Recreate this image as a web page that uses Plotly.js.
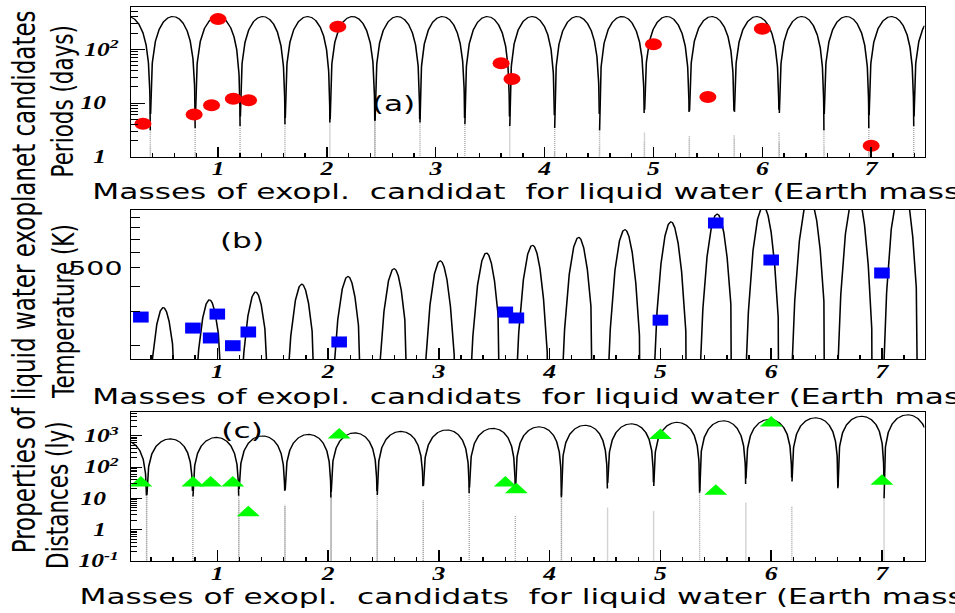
<!DOCTYPE html>
<html>
<head>
<meta charset="utf-8">
<script src="https://cdn.plot.ly/plotly-3.0.1.min.js"></script>
<style>
html,body{margin:0;padding:0;overflow:hidden;background:#fff;width:955px;height:613px;}
#wrap{width:955px;height:613px;overflow:hidden;position:relative;}
#chart{width:673px;height:613px;transform:scaleX(1.41902);transform-origin:0 0;}
</style>
</head>
<body>
<div id="wrap"><div id="chart"></div></div>
<script>
// ---------- data ----------
const masses       = [0.31, 0.78, 0.94, 1.0, 1.14, 1.28, 2.1, 3.6, 3.7, 5.0, 5.5, 6.0, 7.0];
const periods      = [4.1, 6.1, 9.1, 365, 12.0, 11.2, 264, 55, 28, 124, 12.9, 242, 1.6];
const temperatures = [280, 246, 219, 290, 200, 235, 209, 297, 277, 270, 846, 548, 470];
const distances    = [31, 31, 31, null, 31, 3.5, 1050, 31, 19, 1030, 17, 2540, 35];

// ROOT function curves drawn in each pad (parameters)
const curveA = {amp: 408, zero: 0.378, period: 0.4126, faint: 3};                                // amp*|sin|
const curveB = {logAmp: 2.4955, ref: 0.51, slope: 0.0955, peak: 3.01, period: 0.4166, faint: 0}; // G(x)*cos^2
const curveC = {logAmp: 2.904, ref: 0.603, slope: 0.1158, zero: 0.3627, period: 0.416, faint: 10}; // H(x)*|sin|

// axis ranges and tick labels
const xRangeA = [0.2, 7.49];
const xRangeBC = [0.221, 7.384];
const xTickVals = [1, 2, 3, 4, 5, 6, 7];
const xTickText = ['1', '2', '3', '4', '5', '6', '7'];
const yTickValsA = [1, 10, 100];
const yTickTextA = ['1\u2002', '10\u2002', '10<sup>2</sup>'];
const yTickValsB = [500];
const yTickTextB = ['500'];
const yMinorValsB = [200, 300, 400, 600, 700, 800, 900];
const yTickValsC = [0.1, 1, 10, 100, 1000];
const yTickTextC = ['10<sup>-1</sup>', '1\u2002', '10\u2002', '10<sup>2</sup>', '10<sup>3</sup>'];

const xTitleA = 'Masses of exopl. \u00a0candidat \u00a0for liquid water (Earth mass';
const xTitleB = 'Masses of exopl. \u00a0candidats \u00a0for liquid water (Earth mas';
const xTitleC = 'Masses of exopl. \u00a0candidats \u00a0for liquid water (Earth mass';

// ---------- helpers ----------
function logMinor(decades) {
  const v = [];
  decades.forEach(d => { for (let k = 2; k <= 9; k++) v.push(k * Math.pow(10, d)); });
  return v;
}
// sample a curve on a fine grid, adding its exact zeros so the cusps reach the axis
function sample(range, fn, firstZero, period, faint) {
  const xs = [];
  const step = 0.0015;
  for (let x = range[0]; x <= range[1] + 1e-9; x += step) xs.push(x);
  let z = firstZero - Math.ceil((firstZero - range[0]) / period) * period;
  for (; z <= range[1]; z += period) if (z >= range[0]) xs.push(z);
  xs.sort((a, b) => a - b);
  const ys = xs.map(x => Math.max(fn(x), 1e-6));
  // solid part above the faint level, faint (steep, antialiased) part below it
  const solid = ys.map(v => (v >= faint ? v : null));
  const low = ys.map(v => (v <= faint * 1.6 ? v : null));
  return {xs: xs, solid: solid, low: low};
}
const fA = x => curveA.amp * Math.abs(Math.sin(Math.PI * (x - curveA.zero) / curveA.period));
const fB = x => Math.pow(10, curveB.logAmp + curveB.slope * (x - curveB.ref)) *
               Math.pow(Math.cos(Math.PI * (x - curveB.peak) / curveB.period), 2);
const fC = x => Math.pow(10, curveC.logAmp + curveC.slope * (x - curveC.ref)) *
               Math.abs(Math.sin(Math.PI * (x - curveC.zero) / curveC.period));

const cA = sample(xRangeA, fA, curveA.zero, curveA.period, curveA.faint);
const cB = sample(xRangeBC, fB, curveB.peak + curveB.period / 2, curveB.period, curveB.faint);
const cC = sample(xRangeBC, fC, curveC.zero, curveC.period, curveC.faint);

const lineStyle = {color: '#000', width: 1.1};
const faintStyle = {color: '#a8a8a8', width: 1, dash: '1px,1px'};
const traces = [
  {x: cA.xs, y: cA.low, xaxis: 'x', yaxis: 'y', mode: 'lines', line: faintStyle, hoverinfo: 'skip'},
  {x: cC.xs, y: cC.low, xaxis: 'x3', yaxis: 'y3', mode: 'lines', line: faintStyle, hoverinfo: 'skip'},
  {x: cA.xs, y: cA.solid, xaxis: 'x', yaxis: 'y', mode: 'lines', line: lineStyle, hoverinfo: 'skip'},
  {x: cB.xs, y: cB.solid, xaxis: 'x2', yaxis: 'y2', mode: 'lines', line: lineStyle, hoverinfo: 'skip'},
  {x: cC.xs, y: cC.solid, xaxis: 'x3', yaxis: 'y3', mode: 'lines', line: lineStyle, hoverinfo: 'skip'},
  {x: masses, y: periods, xaxis: 'x', yaxis: 'y', mode: 'markers',
   marker: {symbol: 'circle', size: 12, color: '#ff0000', line: {width: 0}}},
  {x: masses, y: temperatures, xaxis: 'x2', yaxis: 'y2', mode: 'markers',
   marker: {symbol: 'square', size: 11, color: '#0000ff', line: {width: 0}}},
  {x: masses, y: distances, xaxis: 'x3', yaxis: 'y3', mode: 'markers',
   marker: {symbol: 'triangle-up', size: 14, color: '#00ff00', line: {width: 0}}}
];

const W = 955, H = 613;
const tickFont = {family: 'Liberation Serif', size: 18, weight: 'bold', style: 'italic', color: '#000'};
const gothic = {family: 'DejaVu Sans', size: 22, color: '#000'};
const xDom = [131 / W, 924.5 / W];
const yDomA = [1 - 156.7 / H, 1 - 7 / H];
const yDomB = [1 - 359 / H, 1 - 210 / H];
const yDomC = [1 - 561 / H, 1 - 412.3 / H];

function xAxis(range, anchor, ticklen) {
  return {
    domain: xDom, range: range, anchor: anchor,
    showline: true, mirror: true, linecolor: '#000', linewidth: 1,
    showgrid: false, zeroline: false,
    ticks: 'inside', ticklen: ticklen, tickwidth: 1, tickcolor: '#000',
    tickmode: 'array', tickvals: xTickVals, ticktext: xTickText,
    tickfont: tickFont, ticklabelstandoff: -4,
    minor: {ticks: 'inside', dtick: 0.2, tick0: 0, ticklen: 4, tickwidth: 1, tickcolor: '#000', showgrid: false}
  };
}
function yAxis(domain, range, anchor, vals, text, ticklen, minorVals, minorLen, font, standoff) {
  return {
    type: 'log', domain: domain, range: range, anchor: anchor,
    showline: true, mirror: true, linecolor: '#000', linewidth: 1,
    showgrid: false, zeroline: false,
    ticks: 'inside', ticklen: ticklen, tickwidth: 1, tickcolor: '#000',
    tickmode: 'array', tickvals: vals, ticktext: text, tickfont: font,
    ticklabelstandoff: standoff,
    minor: {ticks: 'inside', tickmode: 'array', tickvals: minorVals, ticklen: minorLen,
            tickwidth: 1, tickcolor: '#000', showgrid: false}
  };
}

function ann(text, px, py, opts) {
  return Object.assign({
    text: text, xref: 'paper', yref: 'paper', x: px / W, y: 1 - py / H,
    xanchor: 'center', yanchor: 'middle', showarrow: false, font: gothic
  }, opts || {});
}

const layout = {
  width: 673, height: 613,
  margin: {l: 0, r: 0, t: 0, b: 0},
  paper_bgcolor: '#fff', plot_bgcolor: '#fff',
  showlegend: false, hovermode: false,
  xaxis: xAxis(xRangeA, 'y', 10),
  xaxis2: xAxis(xRangeBC, 'y2', 11),
  xaxis3: xAxis(xRangeBC, 'y3', 11),
  yaxis: yAxis(yDomA, [0, 2.788], 'x', yTickValsA, yTickTextA, 10,
               logMinor([0, 1, 2]), 5, tickFont, 4),
  yaxis2: yAxis(yDomB, [2.2332, 2.9934], 'x2', yTickValsB, yTickTextB, 6,
               yMinorValsB, 6, {family: 'DejaVu Sans', size: 20, color: '#000'}, 1),
  yaxis3: yAxis(yDomC, [-1, 3.75], 'x3', yTickValsC, yTickTextC, 7.5,
               logMinor([-1, 0, 1, 2, 3]), 4, tickFont, 4),
  annotations: [
    ann('Properties of liquid water exoplanet candidates', 23.3, 282,
        {textangle: -90, font: {family: 'DejaVu Sans', size: 23, color: '#000'}}),
    ann('Periods (days)', 63.3, 101, {textangle: -90, font: {family: 'DejaVu Sans', size: 21.5, color: '#000'}}),
    ann('Temperature (K)', 62.5, 312, {textangle: -90, font: {family: 'DejaVu Sans', size: 21.5, color: '#000'}}),
    ann('Distances (ly)', 56.7, 495, {textangle: -90, font: {family: 'DejaVu Sans', size: 21.5, color: '#000'}}),
    ann(xTitleA, 90, 191, {xanchor: 'left'}),
    ann(xTitleB, 90, 397, {xanchor: 'left'}),
    ann(xTitleC, 77.3, 596, {xanchor: 'left'}),
    ann('(a)', 394, 103),
    ann('(b)', 242, 240),
    ann('(c)', 242, 430)
  ]
};

Plotly.newPlot('chart', traces, layout, {displayModeBar: false, staticPlot: true});
</script>
</body>
</html>
